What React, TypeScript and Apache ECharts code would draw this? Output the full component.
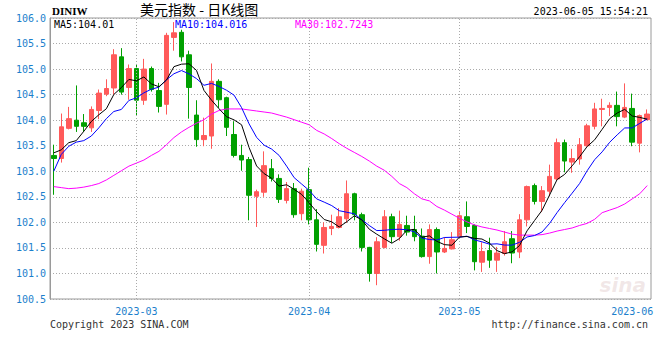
import React, { useEffect, useRef } from "react";
import * as echarts from "echarts";

// Trading days shown (2023-02-14 .. 2023-06-05)
const febDays = [14, 15, 16, 17, 20, 21, 22, 23, 24, 27, 28];
const marDays = [1, 2, 3, 6, 7, 8, 9, 10, 13, 14, 15, 16, 17, 20, 21, 22, 23, 24, 27, 28, 29, 30, 31];
const aprDays = [3, 4, 5, 6, 7, 10, 11, 12, 13, 14, 17, 18, 19, 20, 21, 24, 25, 26, 27, 28];
const mayDays = [1, 2, 3, 4, 5, 8, 9, 10, 11, 12, 15, 16, 17, 18, 19, 22, 23, 24, 25, 26, 29, 30, 31];
const junDays = [1, 2, 5];

const pad = (n: number) => (n < 10 ? "0" + n : "" + n);
const dates: string[] = [
  ...febDays.map((d) => "2023-02-" + pad(d)),
  ...marDays.map((d) => "2023-03-" + pad(d)),
  ...aprDays.map((d) => "2023-04-" + pad(d)),
  ...mayDays.map((d) => "2023-05-" + pad(d)),
  ...junDays.map((d) => "2023-06-" + pad(d)),
];

const monthLabelDates = ["2023-03-01", "2023-04-03", "2023-05-01", "2023-06-01"];
const monthLineDates = ["2023-03-01", "2023-04-03", "2023-05-01"];

const opens = [
  103.31, 103.25, 103.84, 104.0, 103.95, 103.85, 104.19, 104.51, 104.63, 105.24,
  104.64, 105.01, 104.39, 105.01, 104.58, 104.31, 105.62, 105.72, 105.28, 104.1,
  103.62, 103.69, 104.76, 104.44, 103.72, 103.31, 103.23, 102.51, 102.59, 103.05,
  102.86, 102.43, 102.66, 102.17, 102.64, 102.05, 101.55, 101.88, 101.9, 102.07,
  102.56, 102.15, 101.51, 101.0, 101.51, 102.11, 101.72, 101.94, 101.86, 101.73,
  101.33, 101.86, 101.42, 101.48, 101.72, 102.11, 101.94, 101.22, 101.45, 101.26,
  101.39, 101.68, 101.42, 102.05, 102.72, 102.41, 102.61, 102.85, 103.56, 103.18,
  103.24, 103.5, 103.88, 104.21, 104.25, 104.29, 104.06, 104.23, 103.55, 104.01,
];
const closes = [
  103.25, 103.87, 104.03, 103.88, 103.88, 104.21, 104.53, 104.62, 105.28, 104.55,
  105.01, 104.39, 105.0, 104.6, 104.27, 105.66, 105.71, 105.24, 104.64, 103.62,
  103.7, 104.76, 104.4, 103.86, 103.31, 103.22, 102.53, 102.6, 103.11, 102.86,
  102.45, 102.66, 102.15, 102.61, 102.05, 101.57, 101.9, 101.92, 102.11, 102.56,
  102.15, 101.51, 101.0, 101.62, 102.11, 101.72, 101.96, 101.81, 101.72, 101.33,
  101.86, 101.42, 101.49, 101.66, 102.13, 101.92, 101.23, 101.43, 101.26, 101.4,
  101.62, 101.4, 102.05, 102.7, 102.41, 102.62, 102.9, 103.56, 103.2, 103.25,
  103.52, 103.89, 104.22, 104.23, 104.29, 104.07, 104.25, 103.57, 104.09, 104.12,
];
const lows = [
  102.54, 103.17, 103.82, 103.77, 103.77, 103.77, 104.02, 104.47, 104.5, 104.5,
  104.4, 104.1, 104.3, 104.56, 104.15, 104.11, 105.36, 105.15, 104.03, 103.48,
  103.49, 103.44, 104.24, 103.69, 103.27, 103.01, 102.04, 101.91, 102.5, 102.8,
  102.38, 102.37, 102.09, 102.04, 101.96, 101.43, 101.39, 101.75, 101.88, 101.99,
  102.04, 101.43, 100.84, 100.77, 101.49, 101.6, 101.64, 101.74, 101.63, 101.31,
  101.19, 101.0, 101.4, 101.47, 101.7, 101.79, 101.06, 101.03, 101.11, 101.03,
  101.35, 101.2, 101.3, 101.92, 102.35, 102.2, 102.51, 102.82, 102.98, 102.97,
  103.13, 103.48, 103.82, 103.88, 104.08, 103.88, 104.04, 103.49, 103.37, 104.0,
];
const highs = [
  103.52, 104.13, 104.26, 104.68, 104.12, 104.27, 104.6, 104.8, 105.39, 105.41,
  105.09, 105.1, 105.2, 105.05, 104.73, 105.71, 105.92, 105.77, 105.36, 104.39,
  104.05, 105.11, 104.8, 104.46, 103.98, 103.52, 103.28, 102.64, 103.39, 103.24,
  102.94, 102.79, 102.77, 102.66, 103.07, 102.26, 102.0, 102.15, 102.28, 102.82,
  102.58, 102.19, 101.52, 101.71, 102.24, 102.17, 102.23, 102.13, 102.13, 101.88,
  101.96, 101.9, 101.71, 101.81, 102.2, 102.41, 101.96, 101.61, 101.7, 101.52,
  101.83, 101.83, 102.16, 102.72, 102.76, 102.71, 103.13, 103.64, 103.62, 103.44,
  103.65, 103.93, 104.34, 104.42, 104.35, 104.56, 104.72, 104.52, 104.11, 104.21,
];

// moving-average values read from the picture where earlier history is not shown
const ma5Lead = [103.36, 103.42, 103.56, 103.6];
const ma10Lead = [103.0, 103.33, 103.49, 103.57, 103.6, 103.69, 103.85, 104.03, 104.17];
const ma30 = [
  102.7, 102.68, 102.66, 102.67, 102.69, 102.72, 102.76, 102.83, 102.92, 103.01,
  103.1, 103.16, 103.22, 103.31, 103.39, 103.52, 103.66, 103.77, 103.86, 103.94,
  104.01, 104.12, 104.19, 104.22, 104.22, 104.22, 104.2, 104.18, 104.16, 104.14,
  104.1, 104.06, 104.01, 103.96, 103.91, 103.8, 103.73, 103.64, 103.54, 103.45,
  103.37, 103.29, 103.2, 103.1, 103.02, 102.9, 102.76, 102.68, 102.56, 102.46,
  102.42, 102.31, 102.24, 102.16, 102.08, 102.01, 101.95, 101.91, 101.88, 101.85,
  101.81, 101.77, 101.75, 101.75, 101.75, 101.76, 101.79, 101.83, 101.86, 101.89,
  101.94, 101.98, 102.06, 102.19, 102.24, 102.29, 102.36, 102.46, 102.56, 102.72,
];

const legendTexts = ["MA5:104.01", "MA10:104.016", "MA30:102.7243"];
const titleText = "美元指数 - 日K线图";
const symbolText = "DINIW";
const timeText = "2023-06-05 15:54:21";
const copyrightText = "Copyright 2023 SINA.COM";
const urlText = "http://finance.sina.com.cn";

function movingAverage(n: number, lead: number[]): number[] {
  return closes.map((_, i) => {
    if (i < n - 1) return lead[i];
    let s = 0;
    for (let k = i - n + 1; k <= i; k++) s += closes[k];
    return +(s / n).toFixed(4);
  });
}

const UP = "#FF5A5A";
const DOWN = "#00A000";
const AXIS_BLUE = "#1C7FCC";
const MONO = "'DejaVu Sans Mono', 'Liberation Mono', monospace";

export default function App() {
  const ref = useRef<HTMLDivElement>(null);
  useEffect(() => {
    if (!ref.current) return;
    const chart = echarts.init(ref.current, undefined, { renderer: "svg" });
    const ma5 = movingAverage(5, ma5Lead);
    const ma10 = movingAverage(10, ma10Lead);
    const labelIdx = monthLabelDates.map((d) => dates.indexOf(d));

    chart.setOption({
      animation: false,
      backgroundColor: "#ffffff",
      grid: {
        left: 50,
        right: 9,
        top: 18,
        bottom: 61,
        show: true,
        borderColor: "#9a9a9a",
        borderWidth: 1,
      },
      xAxis: {
        type: "category",
        data: dates,
        boundaryGap: true,
        axisLine: { show: false },
        axisTick: { show: false },
        splitLine: { show: false },
        axisLabel: {
          interval: (index: number) => labelIdx.includes(index),
          formatter: (v: string) => v.slice(0, 7),
          color: AXIS_BLUE,
          fontFamily: MONO,
          fontSize: 10,
          margin: 7,
        },
      },
      yAxis: {
        type: "value",
        min: 100.5,
        max: 106.0,
        interval: 0.5,
        axisLine: { show: true, lineStyle: { color: "#9a9a9a" } },
        axisTick: { show: false },
        splitLine: { show: true, lineStyle: { color: "#aaaaaa", type: [1, 2], width: 1 } },
        axisLabel: {
          formatter: (v: number) => v.toFixed(1),
          color: AXIS_BLUE,
          fontFamily: MONO,
          fontSize: 10,
          margin: 4,
          padding: [0, 0, 3, 0],
        },
      },
      series: [
        {
          type: "candlestick",
          data: opens.map((o, i) => [o, closes[i], lows[i], highs[i]]),
          barWidth: 5,
          itemStyle: {
            color: UP,
            color0: DOWN,
            borderColor: UP,
            borderColor0: DOWN,
            borderWidth: 1,
          },
          markLine: {
            silent: true,
            symbol: ["none", "none"],
            label: { show: false },
            lineStyle: { color: "#aaaaaa", type: [1, 2], width: 1 },
            data: monthLineDates.map((d) => ({ xAxis: d })),
          },
          z: 2,
        },
        {
          type: "line",
          data: ma30,
          showSymbol: false,
          symbol: "none",
          lineStyle: { color: "#FF00FF", width: 1 },
          z: 3,
        },
        {
          type: "line",
          data: ma10,
          showSymbol: false,
          symbol: "none",
          lineStyle: { color: "#0000FF", width: 1 },
          z: 4,
        },
        {
          type: "line",
          data: ma5,
          showSymbol: false,
          symbol: "none",
          lineStyle: { color: "#000000", width: 1 },
          z: 5,
        },
      ],
      graphic: [
        {
          type: "text",
          x: 52,
          y: 11,
          style: {
            text: symbolText,
            fill: "#000",
            font: "bold 11px 'Liberation Serif', serif",
            textAlign: "left",
            textVerticalAlign: "middle",
          },
        },
        {
          type: "text",
          x: 140,
          y: 9,
          style: {
            text: titleText,
            fill: "#000",
            font: "14px 'Noto Sans CJK SC', sans-serif",
            textAlign: "left",
            textVerticalAlign: "middle",
          },
        },
        {
          type: "text",
          x: 648,
          y: 11,
          style: {
            text: timeText,
            fill: "#000",
            font: "10px " + MONO,
            textAlign: "right",
            textVerticalAlign: "middle",
          },
        },
        {
          type: "text",
          x: 54,
          y: 24,
          style: { text: legendTexts[0], fill: "#000", font: "10px " + MONO, textVerticalAlign: "middle" },
        },
        {
          type: "text",
          x: 175,
          y: 24,
          style: { text: legendTexts[1], fill: "#0000FF", font: "10px " + MONO, textVerticalAlign: "middle" },
        },
        {
          type: "text",
          x: 295,
          y: 24,
          style: { text: legendTexts[2], fill: "#FF00FF", font: "10px " + MONO, textVerticalAlign: "middle" },
        },
        {
          type: "text",
          x: 50,
          y: 324,
          style: { text: copyrightText, fill: "#333", font: "10px " + MONO, textVerticalAlign: "middle" },
        },
        {
          type: "text",
          x: 648,
          y: 324,
          style: {
            text: urlText,
            fill: "#333",
            font: "10px " + MONO,
            textAlign: "right",
            textVerticalAlign: "middle",
          },
        },
        {
          type: "text",
          x: 646,
          y: 285,
          style: {
            text: "sina",
            fill: "rgba(200,160,160,0.25)",
            font: "italic bold 20px 'DejaVu Sans', sans-serif",
            textAlign: "right",
            textVerticalAlign: "middle",
          },
        },
      ],
    });
    return () => chart.dispose();
  }, []);
  return (
    <div
      ref={ref}
      style={{ position: "fixed", left: 0, top: 0, width: 660, height: 360, background: "#fff" }}
    />
  );
}
